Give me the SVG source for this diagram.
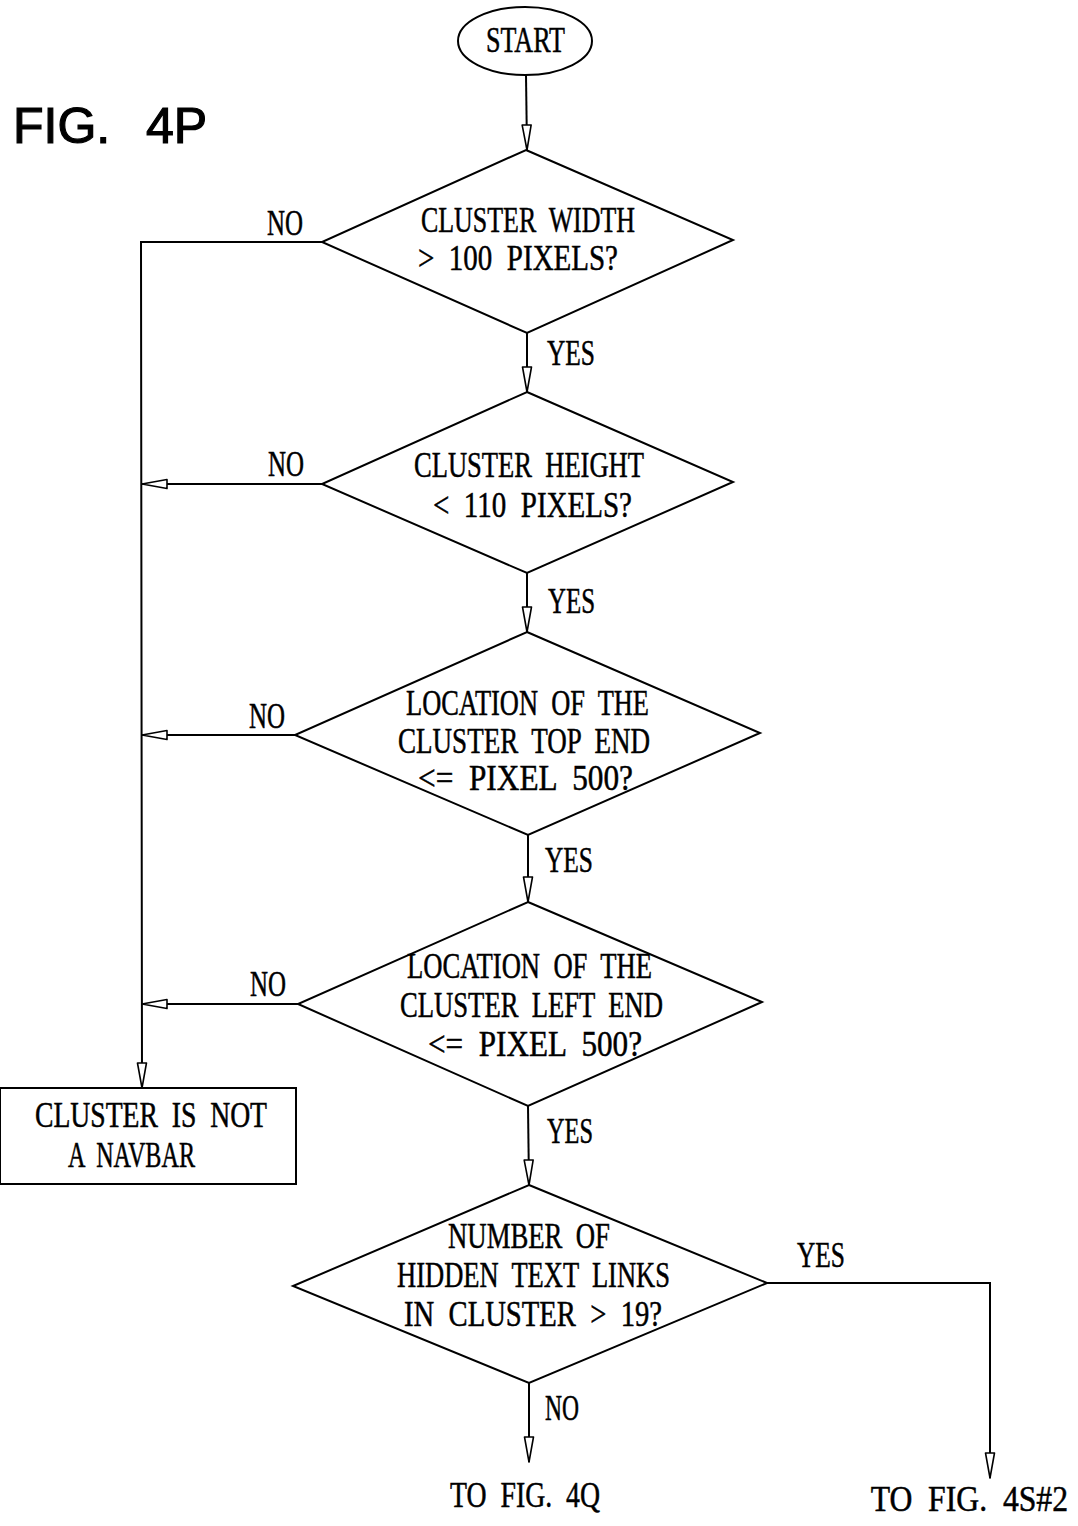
<svg xmlns="http://www.w3.org/2000/svg" width="1078" height="1526" viewBox="0 0 1078 1526">
  <style>
    .shape { fill: #fff; stroke: #000; stroke-width: 2; }
    .line { fill: none; stroke: #000; stroke-width: 2; }
    .t { font-family: "Liberation Serif", "Times New Roman", serif; font-size: 36px; fill: #000; stroke: #000; stroke-width: 0.5; word-spacing: 9px; }
    .fig { font-family: "Liberation Sans", Arial, sans-serif; font-size: 50px; fill: #000; stroke: #000; stroke-width: 1.2; }
  </style>
  <defs>
    <marker id="arrow" markerUnits="userSpaceOnUse" markerWidth="30" markerHeight="14" viewBox="-27 -7 30 14" refX="0" refY="0" orient="auto">
      <path d="M0,0 L-25,-4.5 L-25,4.5 Z" fill="#fff" stroke="#000" stroke-width="1.6" stroke-linejoin="round"/>
    </marker>
  </defs>

  <rect width="1078" height="1526" fill="#fff"/>

  <!-- figure label -->
  <text class="fig"><tspan x="13" y="143">FIG.</tspan><tspan x="146" y="143">4P</tspan></text>

  <!-- connectors -->
  <g id="connectors">
    <path class="line" d="M526,75 L527,150" marker-end="url(#arrow)"/>
    <path class="line" d="M527,333 L527,392" marker-end="url(#arrow)"/>
    <path class="line" d="M527,573 L527,632" marker-end="url(#arrow)"/>
    <path class="line" d="M528,835 L528,902" marker-end="url(#arrow)"/>
    <path class="line" d="M528,1106 L529,1185" marker-end="url(#arrow)"/>
    <path class="line" d="M529,1383 L529,1462" marker-end="url(#arrow)"/>
    <path class="line" d="M767,1283 L990,1283 L990,1478" marker-end="url(#arrow)"/>
    <path class="line" d="M322,242 L141,242 L142,1088" marker-end="url(#arrow)"/>
    <path class="line" d="M322,484 L142,484" marker-end="url(#arrow)"/>
    <path class="line" d="M295,735 L142,735" marker-end="url(#arrow)"/>
    <path class="line" d="M298,1004 L142,1004" marker-end="url(#arrow)"/>

    <text class="t" x="267" y="235" textLength="36" lengthAdjust="spacingAndGlyphs">NO</text>
    <text class="t" x="268" y="476" textLength="36" lengthAdjust="spacingAndGlyphs">NO</text>
    <text class="t" x="249" y="728" textLength="36" lengthAdjust="spacingAndGlyphs">NO</text>
    <text class="t" x="250" y="996" textLength="36" lengthAdjust="spacingAndGlyphs">NO</text>
    <text class="t" x="545" y="1420" textLength="34" lengthAdjust="spacingAndGlyphs">NO</text>

    <text class="t" x="547" y="365" textLength="48" lengthAdjust="spacingAndGlyphs">YES</text>
    <text class="t" x="548" y="613" textLength="47" lengthAdjust="spacingAndGlyphs">YES</text>
    <text class="t" x="545" y="872" textLength="48" lengthAdjust="spacingAndGlyphs">YES</text>
    <text class="t" x="547" y="1143" textLength="46" lengthAdjust="spacingAndGlyphs">YES</text>
    <text class="t" x="797" y="1267" textLength="48" lengthAdjust="spacingAndGlyphs">YES</text>

    <text class="t" x="450" y="1507" textLength="150" lengthAdjust="spacingAndGlyphs">TO FIG. 4Q</text>
    <text class="t" transform="translate(1068,1511) scale(0.88,1)" x="0" y="0" text-anchor="end">TO FIG. 4S#2</text>
  </g>

  <!-- start terminal -->
  <g id="start">
    <ellipse class="shape" cx="525" cy="41" rx="67" ry="34"/>
    <text class="t" x="486" y="52" textLength="79" lengthAdjust="spacingAndGlyphs">START</text>
  </g>

  <!-- decision: cluster width -->
  <g id="width-check">
    <polygon class="shape" points="526,150 733,240 527,333 322,242"/>
    <text class="t" x="421" y="232" textLength="214" lengthAdjust="spacingAndGlyphs">CLUSTER WIDTH</text>
    <text class="t" x="418" y="270" textLength="200" lengthAdjust="spacingAndGlyphs">&gt; 100 PIXELS?</text>
  </g>

  <!-- decision: cluster height -->
  <g id="height-check">
    <polygon class="shape" points="527,392 733,482 527,573 322,484"/>
    <text class="t" x="414" y="477" textLength="230" lengthAdjust="spacingAndGlyphs">CLUSTER HEIGHT</text>
    <text class="t" x="433" y="517" textLength="199" lengthAdjust="spacingAndGlyphs">&lt; 110 PIXELS?</text>
  </g>

  <!-- decision: top end location -->
  <g id="top-check">
    <polygon class="shape" points="527,632 760,733 528,835 295,735"/>
    <text class="t" x="406" y="715" textLength="243" lengthAdjust="spacingAndGlyphs">LOCATION OF THE</text>
    <text class="t" x="398" y="753" textLength="252" lengthAdjust="spacingAndGlyphs">CLUSTER TOP END</text>
    <text class="t" x="418" y="790" textLength="215" lengthAdjust="spacingAndGlyphs">&lt;= PIXEL 500?</text>
  </g>

  <!-- decision: left end location -->
  <g id="left-check">
    <polygon class="shape" points="528,902 762,1002 528,1106 298,1004"/>
    <text class="t" x="407" y="978" textLength="245" lengthAdjust="spacingAndGlyphs">LOCATION OF THE</text>
    <text class="t" x="400" y="1017" textLength="263" lengthAdjust="spacingAndGlyphs">CLUSTER LEFT END</text>
    <text class="t" x="428" y="1056" textLength="214" lengthAdjust="spacingAndGlyphs">&lt;= PIXEL 500?</text>
  </g>

  <!-- outcome box -->
  <g id="not-navbar">
    <rect class="shape" x="0" y="1088" width="296" height="96"/>
    <text class="t" x="35" y="1127" textLength="232" lengthAdjust="spacingAndGlyphs">CLUSTER IS NOT</text>
    <text class="t" x="68" y="1167" textLength="127" lengthAdjust="spacingAndGlyphs">A NAVBAR</text>
  </g>

  <!-- decision: hidden text links -->
  <g id="links-check">
    <polygon class="shape" points="529,1185 767,1283 529,1383 293,1286"/>
    <text class="t" x="448" y="1248" textLength="162" lengthAdjust="spacingAndGlyphs">NUMBER OF</text>
    <text class="t" x="397" y="1287" textLength="273" lengthAdjust="spacingAndGlyphs">HIDDEN TEXT LINKS</text>
    <text class="t" x="404" y="1326" textLength="258" lengthAdjust="spacingAndGlyphs">IN CLUSTER &gt; 19?</text>
  </g>
</svg>
